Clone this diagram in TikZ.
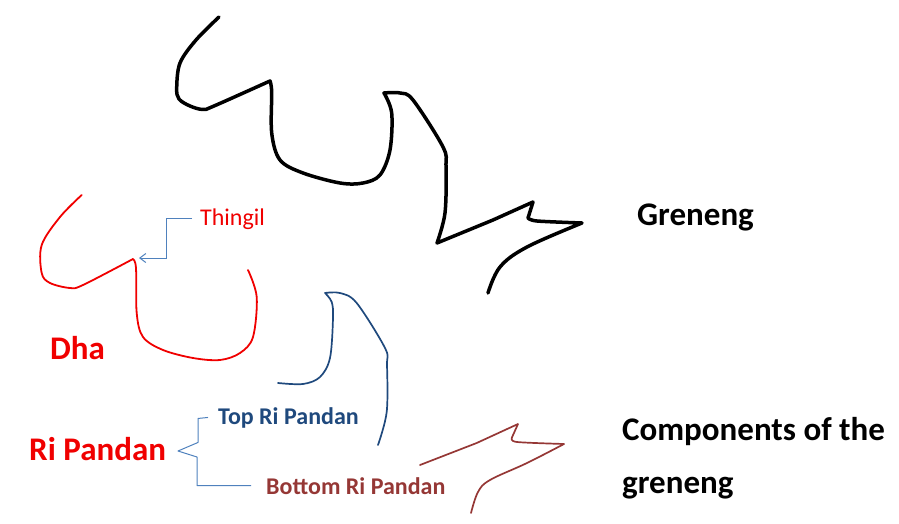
\documentclass[tikz,border=0pt]{standalone}
\usepackage{fontspec}
\setmainfont{Carlito}
\usepackage{tikz}
\usetikzlibrary{arrows.meta,positioning}
\definecolor{dhared}{RGB}{240,0,0}
\definecolor{topblue}{RGB}{31,73,125}
\definecolor{botbrown}{RGB}{149,55,53}
\definecolor{linkblue}{RGB}{79,129,189}

\tikzset{
  bigtag/.style={inner sep=0pt, anchor=base west, font=\fontsize{33}{53}\selectfont\bfseries},
  smalltag/.style={inner sep=0pt, anchor=base west, font=\fontsize{24}{29}\selectfont},
  stroke/.style={line join=round, line cap=round},
  link/.style={linkblue, line width=1pt},
}

\begin{document}
\begin{tikzpicture}[x=1pt, y=-1pt, >={Straight Barb[length=6pt,width=9pt]}]
      \useasboundingbox (0,0) rectangle (899,524);
      % labels
      \node[bigtag] (greneng) at (637,225) {Greneng};
      \node[bigtag, align=left] (components) at (622,493) {Components of the\\greneng};
      \node[bigtag, dhared] (dha) at (50,359) {Dha};
      \node[bigtag, dhared] (ripandan) at (29,460) {Ri Pandan};
      \node[smalltag, dhared] (thingil) at (200,225) {Thingil};
      \node[smalltag, font=\fontsize{24}{29}\selectfont\bfseries, topblue] (toprp) at (218,424) {Top Ri Pandan};
      \node[smalltag, font=\fontsize{24}{29}\selectfont\bfseries, botbrown] (bottomrp) at (266,494) {Bottom Ri Pandan};
      % greneng outline
      \draw[stroke, line width=3.5pt]
        plot[smooth, tension=0.55] coordinates {(219,17) (196,40) (180,63) (176.7,88) (179,99) (190,106) (203,109.5) (214,106) (270,81)}
        -- plot[smooth, tension=0.55] coordinates {(270,81) (271.7,92) (271.7,133) (280,160) (303,173) (340,183) (363,183) (380,175) (390,150) (391.7,113) (384,93)}
        -- plot[smooth, tension=0.55] coordinates {(384,93) (400,93) (413,100) (443,147) (446,167) (445,213) (437,243)}
        -- (493,220) -- (533,202) -- (528,218)
        -- plot[smooth, tension=0.5] coordinates {(528,218) (537,221) (582,223)}
        -- plot[smooth, tension=0.6] coordinates {(582,223) (527,247) (500,267) (488,293)};
      % dha
      \draw[stroke, dhared, line width=1.8pt]
        plot[smooth, tension=0.55] coordinates {(81.7,195) (60,217) (41.7,245) (41.7,273) (50,283) (70,288) (83,285) (133,259)}
        -- plot[smooth, tension=0.55] coordinates {(133,259) (136,268) (136.7,313) (143,337) (163,350) (193,358) (220,360) (240,353) (253,337) (256.7,297) (248,270)};
      % top ri pandan
      \draw[stroke, topblue, line width=1.7pt]
        plot[smooth, tension=0.55] coordinates {(278,383) (303,384) (320,377) (330,358) (333,318) (331.7,302) (325,293)}
        -- plot[smooth, tension=0.55] coordinates {(325,293) (340,293) (356.7,303) (385,348) (387,365) (386.7,412) (378,445)};
      % bottom ri pandan
      \draw[stroke, botbrown, line width=1.7pt]
        (420,465) -- (476.7,443) -- (518,424) -- (511.7,438)
        -- plot[smooth, tension=0.5] coordinates {(511.7,438) (517,442) (564,444)}
        -- plot[smooth, tension=0.6] coordinates {(564,444) (527,463) (490,480) (478,492) (471,513)};
      % callouts
      \coordinate (dhatip) at (139,258);
      \draw[link, ->] ([xshift=-8pt]thingil.west) -- ++(-26,0) |- (dhatip);
      \coordinate (brtip) at (178,451);
      \draw[link, line join=round] ([xshift=-10pt]toprp.west) -- ++(-10,1) -- ++(0,24) -- (brtip)
        -- ++(19,6) -- ++(0,28) |- ([xshift=-15pt]bottomrp.west);
\end{tikzpicture}
\end{document}
